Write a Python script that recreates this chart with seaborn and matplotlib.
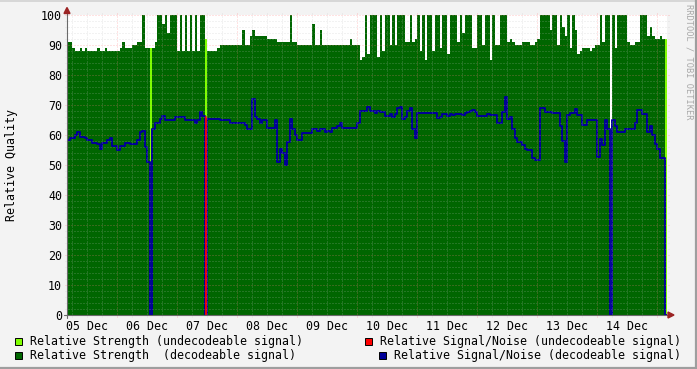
import numpy as np
import pandas as pd
import matplotlib
matplotlib.use("Agg")
import matplotlib.pyplot as plt
import seaborn as sns
from matplotlib.patches import Polygon, Rectangle
from matplotlib.lines import Line2D

# ---------------- data (hourly samples, starting 05 Dec 04:00) ----------------
START = "2023-12-05 04:00"
N_HOURS = 240

strength_decodeable = [
    91, 91, 89, 88, 88, 89, 88, 89, 88, 88, 88, 88, 89, 88, 88, 89, 88, 88, 88, 88, 88, 89, 91, 89,
    89, 89, 90, 90, 91, 91, 100, 89, 89, 0, 89, 91, 100, 100, 97, 100, 94, 100, 100, 100, 88, 100, 88, 100,
    88, 100, 88, 100, 88, 100, 100, 0, 88, 88, 88, 88, 89, 90, 90, 90, 90, 90, 90, 90, 90, 90, 95, 90,
    90, 93, 95, 93, 93, 93, 93, 93, 92, 92, 92, 92, 91, 91, 91, 91, 91, 100, 91, 91, 90, 90, 90, 90,
    90, 90, 97, 90, 90, 95, 90, 90, 90, 90, 90, 90, 90, 90, 90, 90, 90, 92, 90, 90, 90, 85, 86, 100,
    87, 100, 100, 100, 86, 100, 88, 100, 100, 90, 100, 90, 100, 100, 100, 91, 91, 100, 91, 92, 100, 88, 100, 85,
    100, 100, 88, 100, 100, 89, 100, 100, 87, 100, 100, 100, 91, 100, 94, 100, 100, 100, 89, 89, 100, 100, 90, 100,
    100, 85, 100, 90, 90, 100, 100, 100, 91, 92, 91, 90, 90, 90, 91, 91, 91, 90, 90, 91, 92, 100, 100, 100,
    100, 95, 100, 100, 90, 100, 96, 93, 100, 89, 100, 95, 87, 88, 89, 89, 89, 88, 89, 90, 90, 100, 91, 100,
    100, 0, 100, 89, 100, 100, 100, 100, 91, 90, 90, 91, 91, 100, 100, 100, 93, 96, 93, 92, 92, 93, 92, 0,
]

sn_decodeable = [
    58.5, 59, 59, 60, 61, 59.5, 59.5, 59, 58.5, 58.5, 57.5, 57.5, 57, 55.5, 57.5, 57.5, 58.5, 59, 56.5, 56.5, 55, 56.5, 56.5, 57.5,
    57.5, 57, 57, 57, 58.5, 61, 61.5, 56, 51, 0, 62, 64, 64, 65.5, 66.2, 65, 65, 65, 65, 66, 66, 66, 66, 65,
    65, 65, 65, 64, 65, 67.8, 66.5, 0, 65.5, 65.5, 65.5, 65.5, 65.5, 65, 65, 65, 65, 64, 64, 64, 64, 64, 64, 63.5,
    62, 62, 72, 66, 65.5, 64, 65, 65, 62.3, 62.3, 62.3, 65, 51, 55.5, 54, 50, 57.8, 65.5, 62, 60, 58.3, 58.5, 60.7, 60.7,
    60.7, 60.7, 62, 62, 61.5, 62, 62, 61, 61.2, 61, 62.2, 62.5, 63, 64, 62.3, 62.3, 62.3, 62.3, 62.3, 62.3, 64, 68, 68, 68,
    69.3, 68, 68, 67.5, 68, 67.8, 67.8, 66.3, 66.3, 67, 66, 67, 69, 69.5, 65.5, 66, 68, 69, 62, 59, 67.4, 67.4, 67.4, 67.4,
    67.4, 67.4, 67.4, 67.4, 65.8, 66, 67, 67, 66.5, 67, 66.7, 67, 67, 67, 66.7, 67.5, 67.8, 68, 68.5, 67.8, 66.3, 66.3, 66.3, 66.3,
    67.1, 66.6, 66.6, 66.6, 63.9, 63.9, 67.8, 72.8, 65.5, 66, 62, 59, 57.8, 57.8, 56.7, 55.5, 55, 55, 52.5, 51.7, 51.7, 68.9, 69, 67.8,
    67.8, 67.8, 67.2, 67.2, 67.2, 63, 58, 51.1, 66.7, 67.2, 67.2, 68.6, 66.7, 66.7, 63.3, 63.3, 65, 65, 65, 65, 52.8, 58.8, 56.7, 65,
    62, 0, 65, 63, 61, 61, 61, 62, 62, 62, 62, 64, 68.3, 68.3, 67, 67, 61.1, 63, 60, 57, 55.5, 52.2, 52.2, 0,
]

undecodeable_hours = [33, 55, 239]
undecodeable_strength = [89, 92, 92]
undecodeable_sn = [0, 66, 0]

day_labels = ["05 Dec", "06 Dec", "07 Dec", "08 Dec", "09 Dec",
              "10 Dec", "11 Dec", "12 Dec", "13 Dec", "14 Dec"]
y_ticks = [0, 10, 20, 30, 40, 50, 60, 70, 80, 90, 100]

legend_rows = [
    ("#80ff00", "Relative Strength (undecodeable signal)", 15, 30, 341.5),
    ("#006600", "Relative Strength  (decodeable signal)", 15, 30, 355.5),
    ("#ff0000", "Relative Signal/Noise (undecodeable signal)", 365, 380, 341.5),
    ("#000099", "Relative Signal/Noise (decodeable signal)", 379, 394, 355.5),
]

# ---------------- build tables ----------------
W, H = 697, 369
sns.set_theme(style="white")
plt.rcParams["font.family"] = ["DejaVu Sans Mono", "DejaVu Sans"]

times = pd.date_range(START, periods=N_HOURS + 1, freq="h")


def ext(v):
    v = list(v)
    return v + [v[-1]]


str_undec = [0.0] * N_HOURS
for h, v in zip(undecodeable_hours, undecodeable_strength):
    str_undec[h] = v

df = pd.DataFrame({
    "time": times,
    "strength": ext(strength_decodeable),
    "strength_undec": ext(str_undec),
    "sn": ext(sn_decodeable),
})

red_rows = []
for k, (h, v) in enumerate(zip(undecodeable_hours, undecodeable_sn)):
    if v > 0:
        tm = times[h] + pd.Timedelta(minutes=40)
        red_rows += [(k, 0, tm, 0.0), (k, 1, tm, v)]
red_df = pd.DataFrame(red_rows, columns=["seg", "order", "time", "sn"])

# ---------------- figure ----------------
fig = plt.figure(figsize=(W / 100, H / 100), dpi=100, facecolor="#f3f3f3")
ax = fig.add_axes([67 / W, 1 - 315 / H, 600 / W, 300 / H])
ax.set_facecolor("white")

ax.fill_between(df["time"], 0, df["strength"], step="post", color="#006600", lw=0, zorder=1)
ax.fill_between(df["time"], 0, df["strength_undec"], step="post", color="#80ff00", lw=0, zorder=1.1)

sns.lineplot(data=df, x="time", y="sn", drawstyle="steps-post", color="#000099",
             lw=1.4, ax=ax, zorder=3, estimator=None)
if len(red_df):
    sns.lineplot(data=red_df, x="time", y="sn", units="seg", estimator=None, sort=False,
                 color="#ff0000", lw=1.3, ax=ax, zorder=3.1)

ax.set_xlim(times[0], times[-1])
ax.set_ylim(0, 100)
for s in ax.spines.values():
    s.set_visible(False)

# grid (semi-transparent, dotted, on top)
dot = (0, (1, 2))
for y in range(2, 101, 2):
    major = (y % 10 == 0)
    ax.axhline(y, xmin=-2 / 600, xmax=1 + 2 / 600, color="#ff8080" if major else "#c0c0c0",
               alpha=0.45 if major else 0.38, lw=0.72, ls=dot, zorder=4, clip_on=False)
grid_times = pd.date_range("2023-12-05 06:00", times[-1], freq="6h")
for t in grid_times:
    major = (t.hour == 0)
    ax.axvline(t, ymin=-2 / 300, ymax=1 + 3 / 300, color="#ff8080" if major else "#c0c0c0",
               alpha=0.45 if major else 0.38, lw=0.72, ls=dot, zorder=4, clip_on=False)

noon = pd.date_range("2023-12-05 12:00", periods=len(day_labels), freq="D")
ax.set_xticks(noon)
ax.set_xticklabels(day_labels)
ax.set_yticks(y_ticks)
ax.set_yticklabels([str(v) for v in y_ticks])
ax.tick_params(axis="both", length=0, labelsize=8.4, colors="#000000")
ax.tick_params(axis="x", pad=3.5)
ax.tick_params(axis="y", pad=3.5)
ax.set_xlabel("")
ax.set_ylabel("")


def P(x, y):
    return (x / W, 1 - y / H)


# axes lines and arrows
fig.add_artist(Line2D(*zip(P(67, 318), P(67, 10)), color="#6a6a6a", lw=0.8, zorder=6))
fig.add_artist(Line2D(*zip(P(64, 315), P(670, 315)), color="#6a6a6a", lw=0.8, zorder=6))
fig.add_artist(Polygon([P(64, 13.5), P(70, 13.5), P(67, 7.5)], closed=True,
                       color="#9b2323", zorder=7))
fig.add_artist(Polygon([P(668, 312), P(668, 318), P(674, 315)], closed=True,
                       color="#9b2323", zorder=7))

# labels
fig.text(*P(12, 165), "Relative Quality", rotation=90, ha="center", va="center",
         fontsize=8.4, color="#000000")
fig.text(*P(688.5, 4), "RRDTOOL / TOBI OETIKER", rotation=270, ha="center", va="top",
         fontsize=6.2, color="#a8a8a8")

# legend
for col, label, bx, tx, ty in legend_rows:
    fig.add_artist(Rectangle(P(bx, ty + 3.5), 7 / W, 7 / H, facecolor=col,
                             edgecolor="black", lw=0.7, zorder=8))
    fig.text(*P(tx, ty), label, ha="left", va="center", fontsize=8.4, color="#000000")

# frame shading
fig.add_artist(Line2D(*zip(P(0, 0.5), P(697, 0.5)), color="#d2d2d2", lw=1.2))
fig.add_artist(Line2D(*zip(P(0, 368), P(697, 368)), color="#9e9e9e", lw=1.6))
fig.add_artist(Line2D(*zip(P(696, 0), P(696, 369)), color="#9e9e9e", lw=1.6))

fig.savefig("out.png", dpi=100, facecolor=fig.get_facecolor())
